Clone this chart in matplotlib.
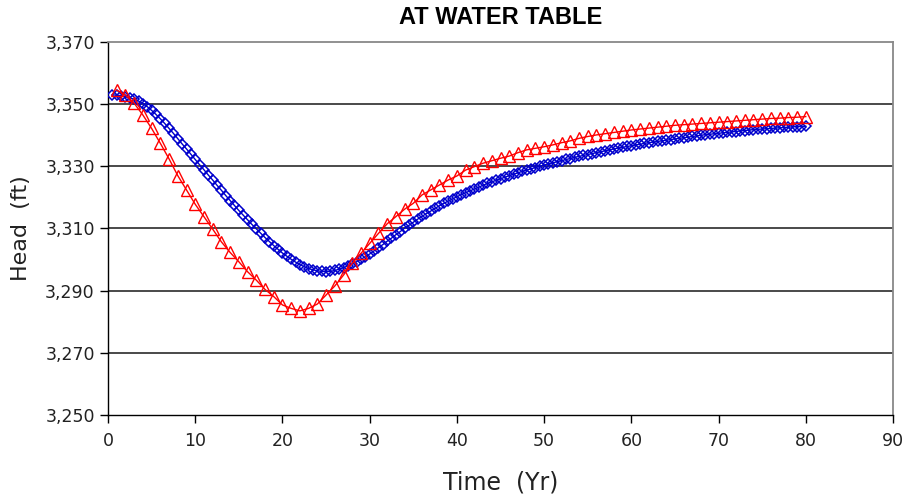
import matplotlib
matplotlib.use("Agg")
import matplotlib.pyplot as plt
from matplotlib.ticker import FuncFormatter

title = "AT WATER TABLE"
xlabel = "Time  (Yr)"
ylabel = "Head  (ft)"

red_time = list(range(1, 81))
red_head = [3354.5, 3352.9, 3350.3, 3346.5, 3342.2, 3337.4, 3332.4, 3327.0, 3322.4, 3317.8,
            3313.8, 3309.8, 3305.7, 3302.3, 3299.3, 3296.1, 3293.4, 3290.4, 3288.1, 3285.4,
            3284.3, 3283.5, 3284.3, 3285.7, 3288.6, 3291.5, 3295.0, 3298.8, 3302.0, 3305.2,
            3308.4, 3311.5, 3313.8, 3316.2, 3318.1, 3320.8, 3322.4, 3324.0, 3325.6, 3326.9,
            3328.8, 3329.9, 3331.0, 3331.8, 3332.6, 3333.3, 3334.4, 3335.3, 3335.8, 3336.3,
            3336.9, 3337.6, 3338.2, 3339.0, 3339.6, 3340.1, 3340.5, 3340.9, 3341.3, 3341.7,
            3342.0, 3342.3, 3342.6, 3342.9, 3343.2, 3343.4, 3343.6, 3343.8, 3344.0, 3344.2,
            3344.4, 3344.6, 3344.8, 3345.0, 3345.2, 3345.4, 3345.5, 3345.7, 3345.8, 3346.0]

blue_time = [i / 2 for i in range(1, 161)]
blue_head = [3353.0, 3352.9, 3352.7, 3352.4, 3352.0, 3351.6, 3351.0, 3350.2, 3349.2, 3348.0,
             3346.7, 3345.3, 3343.8, 3342.2, 3340.6, 3338.9, 3337.2, 3335.6, 3333.9, 3332.2,
             3330.5, 3328.9, 3327.2, 3325.6, 3323.9, 3322.3, 3320.6, 3319.0, 3317.4, 3315.8,
             3314.3, 3312.8, 3311.3, 3309.9, 3308.5, 3307.1, 3305.8, 3304.5, 3303.3, 3302.1,
             3301.1, 3300.1, 3299.2, 3298.4, 3297.7, 3297.1, 3296.7, 3296.4, 3296.2, 3296.1,
             3296.2, 3296.5, 3296.9, 3297.4, 3298.0, 3298.6, 3299.3, 3300.1, 3300.9, 3301.8,
             3302.8, 3303.8, 3304.8, 3305.9, 3306.9, 3308.0, 3309.0, 3310.1, 3311.0, 3312.0,
             3313.0, 3313.9, 3314.8, 3315.6, 3316.5, 3317.3, 3318.1, 3318.8, 3319.5, 3320.2,
             3320.9, 3321.5, 3322.1, 3322.7, 3323.3, 3323.9, 3324.5, 3325.0, 3325.5, 3326.0,
             3326.5, 3327.0, 3327.5, 3327.9, 3328.4, 3328.8, 3329.2, 3329.6, 3330.0, 3330.4,
             3330.8, 3331.1, 3331.5, 3331.8, 3332.2, 3332.5, 3332.9, 3333.2, 3333.5, 3333.8,
             3334.1, 3334.4, 3334.7, 3335.0, 3335.3, 3335.6, 3335.9, 3336.1, 3336.4, 3336.6,
             3336.9, 3337.1, 3337.4, 3337.6, 3337.8, 3338.0, 3338.2, 3338.4, 3338.6, 3338.8,
             3339.0, 3339.2, 3339.4, 3339.6, 3339.8, 3340.0, 3340.2, 3340.3, 3340.5, 3340.6,
             3340.8, 3340.9, 3341.1, 3341.2, 3341.4, 3341.5, 3341.7, 3341.8, 3341.9, 3342.0,
             3342.1, 3342.2, 3342.3, 3342.4, 3342.5, 3342.6, 3342.7, 3342.8, 3342.8, 3342.9]

x_ticks = list(range(0, 91, 10))
y_ticks = list(range(3250, 3371, 20))

fig = plt.figure(figsize=(9.09, 4.97), dpi=100)
ax = fig.add_axes([108 / 909, 1 - 415 / 497, (893 - 108) / 909, (415 - 42) / 497])

for yt in y_ticks[1:-1]:
    ax.axhline(yt, color="#3a3a3a", lw=1.3, zorder=1)

ax.plot(blue_time, blue_head, color="#0000CC", lw=1.0, marker="D", markersize=5.3,
        markerfacecolor="none", markeredgewidth=1.1, zorder=3)
ax.plot(red_time, red_head, color="#FF0000", lw=1.0, marker="^", markersize=8,
        markerfacecolor="none", markeredgewidth=1.0, zorder=4)

ax.set_xlim(0, 90)
ax.set_ylim(3250, 3370)
ax.set_xticks(x_ticks)
ax.set_yticks(y_ticks)
ax.yaxis.set_major_formatter(FuncFormatter(lambda v, p: f"{int(v):,}"))
ax.tick_params(direction="out", length=6, width=1, labelsize=12.5, colors="black")
ax.tick_params(axis="x", pad=6)
for side in ["top", "right"]:
    ax.spines[side].set_color("#888888")
    ax.spines[side].set_linewidth(1.3)
for side in ["left", "bottom"]:
    ax.spines[side].set_color("black")
    ax.spines[side].set_linewidth(1.0)

for lab in ax.get_xticklabels() + ax.get_yticklabels():
    lab.set_color("#222222")

ax.set_xlabel(xlabel, fontsize=17, color="#222222", labelpad=15)
ax.set_ylabel(ylabel, fontsize=16, color="#222222", labelpad=10)
ax.set_title(title, fontsize=17, fontweight="bold", family="Liberation Sans", pad=13)

fig.savefig("out.png", dpi=100)
